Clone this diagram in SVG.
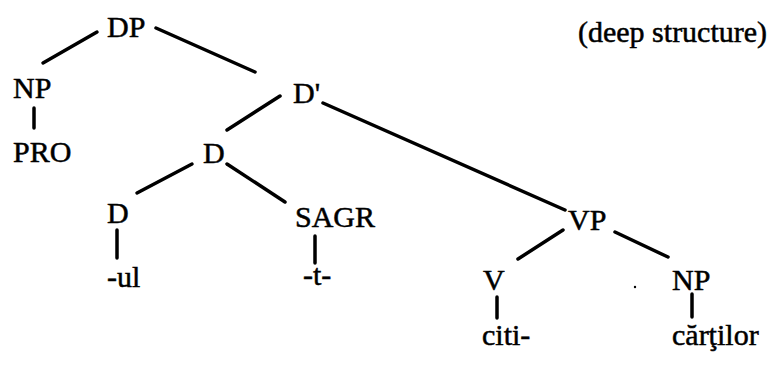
<svg xmlns="http://www.w3.org/2000/svg" width="772" height="369" viewBox="0 0 772 369">
<style>
text{font-family:"Liberation Serif","Times New Roman",serif;font-size:30px;fill:#000;stroke:#000;stroke-width:0.5}
.e{stroke:#000;stroke-width:3.5;stroke-linecap:round;fill:none}
</style>
<rect width="772" height="369" fill="#fff"/>
<g id="connectors">
<line class="e" x1="97" y1="32" x2="43" y2="63"/>
<line class="e" x1="156" y1="28" x2="255" y2="72"/>
<line class="e" x1="34" y1="108" x2="34" y2="128"/>
<line class="e" x1="280" y1="96" x2="227" y2="130"/>
<line class="e" x1="323" y1="103" x2="565" y2="210"/>
<line class="e" x1="192" y1="164" x2="137" y2="193"/>
<line class="e" x1="227" y1="164" x2="285" y2="202"/>
<line class="e" x1="117" y1="230" x2="117" y2="258"/>
<line class="e" x1="315" y1="236" x2="315" y2="263"/>
<line class="e" x1="563" y1="230" x2="518" y2="259"/>
<line class="e" x1="615" y1="232" x2="668" y2="257"/>
<line class="e" x1="497" y1="297" x2="497" y2="318"/>
<line class="e" x1="692" y1="294" x2="692" y2="317"/>
</g>
<g id="n-DP"><text x="107" y="37">DP</text></g>
<g id="n-NP1"><text x="13" y="98">NP</text></g>
<g id="n-PRO"><text x="13" y="162">PRO</text></g>
<g id="n-Dbar"><text x="293" y="103">D'</text></g>
<g id="n-D1"><text x="203" y="163">D</text></g>
<g id="n-D2"><text x="107" y="223">D</text></g>
<g id="n-SAGR"><text x="295" y="227">SAGR</text></g>
<g id="n-ul"><text x="107" y="287">-ul</text></g>
<g id="n-t"><text x="303" y="285">-t-</text></g>
<g id="n-VP"><text x="568" y="230">VP</text></g>
<g id="n-V"><text x="483" y="290">V</text></g>
<g id="n-NP2"><text x="672" y="290">NP</text></g>
<g id="n-citi"><text x="482" y="345">citi-</text></g>
<g id="n-cartilor"><text x="672" y="345">cărţilor</text></g>
<g id="label"><text x="578" y="42">(deep structure)</text></g>
<circle cx="635" cy="287" r="1.2" fill="#000"/>
</svg>
